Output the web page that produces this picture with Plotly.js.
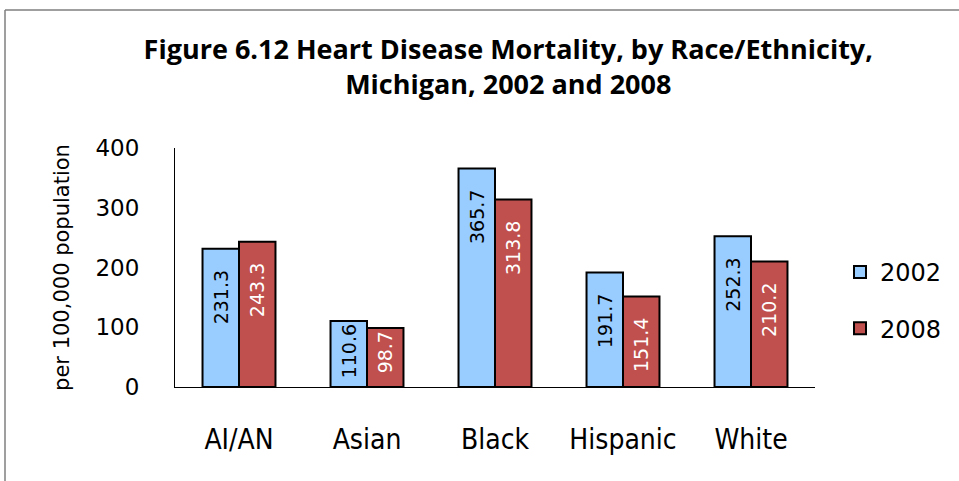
<!DOCTYPE html>
<html><head><meta charset="utf-8">
<script src="https://cdn.plot.ly/plotly-3.0.1.min.js"></script>
<style>html,body{margin:0;padding:0;background:#fff;}#chart{width:959px;height:481px;}</style>
</head><body><div id="chart"></div>
<script>
const categories = ["AI/AN", "Asian", "Black", "Hispanic", "White"];
const values2002 = [231.3, 110.6, 365.7, 191.7, 252.3];
const values2008 = [243.3, 98.7, 313.8, 151.4, 210.2];
const seriesNames = ["2002", "2008"];
const yTicks = [0, 100, 200, 300, 400];

const L = 175, R = 815, T = 148, B = 387;
const px = x => (x - L) / (R - L);
const py = y => (B - y) / (B - T);
const label = v => v.toFixed(1) + (v > 140 ? '\u00a0\u00a0\u00a0' : '');

const common = {
  type: 'bar', x: categories, textposition: 'inside', textangle: -90,
  insidetextanchor: 'end', constraintext: 'none', cliponaxis: false,
  hoverinfo: 'none'
};
const data = [
  Object.assign({}, common, {
    name: seriesNames[0], legendgroup: 'a', y: values2002, text: values2002.map(label),
    marker: {color: '#99ccff', line: {color: '#000', width: 2}},
    insidetextfont: {family: 'DejaVu Sans', size: 19, color: '#000'}
  }),
  Object.assign({}, common, {
    name: seriesNames[1], legendgroup: 'b', y: values2008, text: values2008.map(label),
    marker: {color: '#c0504d', line: {color: '#000', width: 2}},
    insidetextfont: {family: 'DejaVu Sans', size: 19, color: '#fff'}
  })
];

const layout = {
  width: 959, height: 481,
  margin: {l: L, r: 959 - R, t: T, b: 481 - B, pad: 0},
  paper_bgcolor: '#fff', plot_bgcolor: '#fff',
  barmode: 'group', bargap: 0.43, bargroupgap: 0,
  showlegend: true,
  title: {
    text: '<b>Figure 6.12 Heart Disease Mortality, by Race/Ethnicity,<br>Michigan, 2002 and 2008</b>',
    x: 0.53, xanchor: 'center', y: 0.878, yanchor: 'middle',
    font: {family: 'Open Sans, DejaVu Sans', size: 27, color: '#000'}
  },
  xaxis: {
    showline: true, linecolor: '#000', linewidth: 1, ticks: '', showgrid: false,
    tickfont: {family: 'Liberation Sans Narrow, DejaVu Sans Condensed, DejaVu Sans', size: 28, color: '#000'},
    ticklabelstandoff: 27, fixedrange: true
  },
  yaxis: {
    range: [0, 400], tickvals: yTicks, ticktext: yTicks.map(String),
    showline: true, linecolor: '#000', linewidth: 1, ticks: '', showgrid: false, zeroline: false,
    tickfont: {family: 'DejaVu Sans', size: 23, color: '#000'},
    ticklabelstandoff: 30,
    title: {text: 'per 100,000 population', font: {family: 'DejaVu Sans', size: 21, color: '#000'}, standoff: 20},
    fixedrange: true
  },
  legend: {
    x: px(840), y: py(250), xanchor: 'left', yanchor: 'top',
    font: {family: 'DejaVu Sans', size: 24, color: '#000'},
    itemwidth: 30, tracegroupgap: 22, bgcolor: 'rgba(0,0,0,0)'
  },
  shapes: [
    {type: 'line', xref: 'paper', yref: 'paper', x0: px(5), x1: px(960), y0: py(10), y1: py(10), line: {color: '#7f7f7f', width: 1.5}},
    {type: 'line', xref: 'paper', yref: 'paper', x0: px(5), x1: px(5), y0: py(10), y1: py(482), line: {color: '#7f7f7f', width: 1.5}}
  ]
};
Plotly.newPlot('chart', data, layout, {staticPlot: true, displayModeBar: false});
</script>
</body></html>
